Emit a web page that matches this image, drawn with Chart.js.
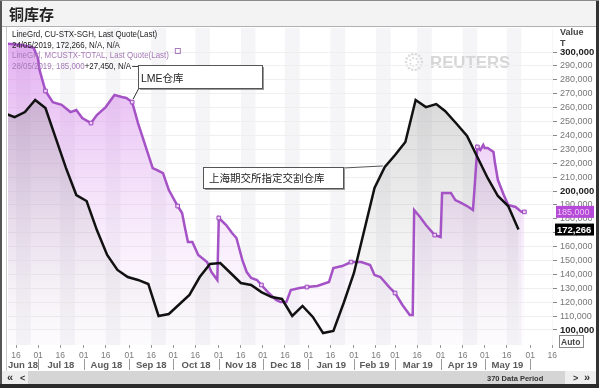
<!DOCTYPE html>
<html><head><meta charset="utf-8">
<script src="https://cdn.jsdelivr.net/npm/chart.js@4.4.1/dist/chart.umd.min.js"></script>
<style>html,body{margin:0;padding:0;background:#fff;overflow:hidden}#wrap{position:relative;width:599px;height:388px}</style>
</head><body><div id="wrap"><canvas id="c" width="599" height="388"></canvas></div>
<script>
// ---- DATA ----
const shfeDates = ["2018-06-08","2018-06-15","2018-06-22","2018-06-29","2018-07-06","2018-07-13","2018-07-20","2018-07-27","2018-08-03","2018-08-10","2018-08-17","2018-08-24","2018-08-31","2018-09-07","2018-09-14","2018-09-21","2018-09-28","2018-10-12","2018-10-19","2018-10-26","2018-11-02","2018-11-09","2018-11-16","2018-11-23","2018-11-30","2018-12-07","2018-12-14","2018-12-21","2018-12-28","2019-01-04","2019-01-11","2019-01-18","2019-01-25","2019-02-01","2019-02-15","2019-02-22","2019-03-01","2019-03-08","2019-03-15","2019-03-22","2019-03-29","2019-04-04","2019-04-12","2019-04-19","2019-04-26","2019-05-03","2019-05-10","2019-05-17","2019-05-24"];
const shfeValues = [256000,253200,256800,265500,259700,238100,216500,197100,192800,171900,154000,143200,138100,136000,133100,110100,111500,125200,138100,147500,148200,141000,133800,132400,127300,123700,122300,110100,117300,109400,97800,99300,119400,141000,202200,217300,225900,235300,265500,260400,262600,257600,248200,239600,224500,209400,196400,189200,172266];

const lmeDates = ["2018-06-10","2018-06-20","2018-06-28","2018-07-01","2018-07-02","2018-07-06","2018-07-11","2018-07-17","2018-07-23","2018-07-27","2018-07-31","2018-08-06","2018-08-10","2018-08-16","2018-08-22","2018-08-27","2018-08-30","2018-09-03","2018-09-07","2018-09-13","2018-09-17","2018-09-20","2018-09-24","2018-09-28","2018-10-04","2018-10-07","2018-10-09","2018-10-11","2018-10-14","2018-10-18","2018-10-24","2018-10-27","2018-10-31","2018-11-01","2018-11-06","2018-11-10","2018-11-13","2018-11-17","2018-11-20","2018-11-23","2018-11-27","2018-11-30","2018-12-05","2018-12-10","2018-12-13","2018-12-17","2018-12-20","2018-12-26","2018-12-31","2019-01-07","2019-01-15","2019-01-18","2019-01-24","2019-01-30","2019-02-06","2019-02-12","2019-02-15","2019-02-19","2019-02-25","2019-03-01","2019-03-06","2019-03-11","2019-03-13","2019-03-14","2019-03-18","2019-03-22","2019-03-28","2019-04-01","2019-04-02","2019-04-08","2019-04-11","2019-04-15","2019-04-20","2019-04-23","2019-04-24","2019-04-26","2019-04-28","2019-04-30","2019-05-01","2019-05-03","2019-05-07","2019-05-08","2019-05-10","2019-05-14","2019-05-17","2019-05-22","2019-05-26","2019-05-28"];
const lmeValues = [306000,305000,303000,295000,287000,272000,264000,262000,256800,258300,252500,248900,254700,260400,269100,267600,267000,264000,248900,229500,216500,215100,212900,200700,189200,184200,173400,163300,163300,154000,148900,141700,136000,180600,175500,169800,166200,150400,141700,137400,136000,132400,126600,121600,120100,120100,128800,130200,130900,131700,134500,144600,146000,148900,148900,146800,139600,138100,130900,126600,118000,110800,110800,186300,181300,175500,168300,166900,198600,198600,193500,191400,188500,186300,200700,231700,229500,233100,230900,230900,228100,220100,207900,197100,189900,188500,185000,185000];
const lmeMarkerDates = ["2018-07-06","2018-08-06","2018-09-03","2018-10-04","2018-11-01","2018-11-30","2018-12-31","2019-01-30","2019-03-01","2019-03-28","2019-04-26","2019-05-28"];

const monthStarts = ["2018-06-01","2018-07-01","2018-08-01","2018-09-01","2018-10-01","2018-11-01","2018-12-01","2019-01-01","2019-02-01","2019-03-01","2019-04-01","2019-05-01","2019-06-01"];
const monthLabels = ["Jun 18","Jul 18","Aug 18","Sep 18","Oct 18","Nov 18","Dec 18","Jan 19","Feb 19","Mar 19","Apr 19","May 19"];
const xTickDates = ["2018-06-16","2018-07-01","2018-07-16","2018-08-01","2018-08-16","2018-09-01","2018-09-16","2018-10-01","2018-10-16","2018-11-01","2018-11-16","2018-12-01","2018-12-16","2019-01-01","2019-01-16","2019-02-01","2019-02-16","2019-03-01","2019-03-16","2019-04-01","2019-04-16","2019-05-01","2019-05-16","2019-06-01","2019-06-16"];
const xTickLabels = ["16","01","16","01","16","01","16","01","16","01","16","01","16","01","16","01","16","01","16","01","16","01","16","01","16"];
const yTickValues = [100000,110000,120000,130000,140000,150000,160000,170000,180000,190000,200000,210000,220000,230000,240000,250000,260000,270000,280000,290000,300000];
const lastShfe = 172266, lastLme = 185000;

// ---- helpers ----
const T0 = Date.parse("2018-06-16T00:00:00Z");
const dayOf = s => (Date.parse(s + "T00:00:00Z") - T0) / 864e5;
const fmt = v => Math.round(v).toLocaleString('en-US');
const LAT = '"Liberation Sans","Noto Sans CJK SC",sans-serif';
const markerSet = new Set(lmeMarkerDates.map(dayOf));
const tickLabelMap = new Map(xTickDates.map((d, i) => [Math.round(dayOf(d)), xTickLabels[i]]));

function txt(ctx, s, x, y, font, color, sx, align) {
  ctx.save(); ctx.font = font; ctx.fillStyle = color; ctx.textBaseline = 'alphabetic';
  ctx.textAlign = align || 'left';
  ctx.translate(x, y); ctx.scale(sx || 1, 1); ctx.fillText(s, 0, 0);
  const w = ctx.measureText(s).width * (sx || 1); ctx.restore(); return w;
}

const bgPlugin = {
  id: 'bg',
  beforeDraw(chart) {
    const c = chart.ctx, a = chart.chartArea, xs = chart.scales.x;
    c.save();
    c.fillStyle = '#fff'; c.fillRect(0, 0, 599, 388);
    c.fillStyle = '#f3f3f3'; c.fillRect(0, 0, 599, 26);
    c.fillStyle = '#b0b0b0'; c.fillRect(0, 26, 599, 1);
    // vertical bands
    c.fillStyle = '#f5f5f7';
    xTickDates.forEach((d, i) => {
      if (xTickLabels[i] !== '16') return;
      const x0 = xs.getPixelForValue(dayOf(d)), x1 = xs.getPixelForValue(dayOf(d) + 10);
      const l = Math.max(x0, a.left), r = Math.min(x1, a.right);
      if (r > l) c.fillRect(l, a.top, r - l, a.bottom - a.top);
    });
    // watermark
    c.fillStyle = '#dcdcdc';
    for (let k = 0; k < 14; k++) {
      const ang = k / 14 * Math.PI * 2;
      c.beginPath(); c.arc(414 + Math.cos(ang) * 8, 62 + Math.sin(ang) * 8, 1.3, 0, Math.PI * 2); c.fill();
    }
    for (let k = 0; k < 7; k++) {
      const ang = k / 7 * Math.PI * 2;
      c.beginPath(); c.arc(414 + Math.cos(ang) * 4, 62 + Math.sin(ang) * 4, 1.1, 0, Math.PI * 2); c.fill();
    }
    txt(c, 'REUTERS', 430, 68, 'bold 16px ' + LAT, '#d6d6d6', 1.05);
    c.restore();
  },
  afterDraw(chart) {
    const c = chart.ctx, a = chart.chartArea, xs = chart.scales.x, ys = chart.scales.y;
    c.save();
    for (let i = 0; i < monthLabels.length; i++) {
      const p0 = xs.getPixelForValue(dayOf(monthStarts[i])), p1 = xs.getPixelForValue(dayOf(monthStarts[i + 1]));
      c.font = 'bold 9.5px ' + LAT;
      const w = c.measureText(monthLabels[i]).width;
      let cx = (p0 + p1) / 2;
      if (cx - w / 2 < a.left) cx = a.left + w / 2;
      txt(c, monthLabels[i], cx, 368, 'bold 9.5px ' + LAT, '#5a5a5a', 1, 'center');
      if (i > 0 && p0 > a.left && p0 < a.right) { c.fillStyle = '#9a9a9a'; c.fillRect(Math.round(p0), 359, 1, 11); }
    }
    c.fillStyle = '#9a9a9a'; c.fillRect(Math.round(xs.getPixelForValue(dayOf(monthStarts[12]))), 359, 1, 11);

    const sx = 0.88;
    txt(c, 'LineGrd, CU-STX-SGH, Last Quote(Last)', 12, 37, '9px ' + LAT, '#222', sx);
    txt(c, '24/05/2019, ' + fmt(lastShfe) + ', N/A, N/A', 12, 47.5, '9px ' + LAT, '#222', sx);
    const w3 = txt(c, 'LineGrd, MCUSTX-TOTAL, Last Quote(Last)', 12, 58, '9px ' + LAT, '#a77ab8', sx);
    c.strokeStyle = '#a77ab8'; c.lineWidth = 1; c.strokeRect(12 + w3 + 6.5, 48.5, 5, 5);
    const w4 = txt(c, '28/05/2019, ' + fmt(lastLme), 12, 68.5, '9px ' + LAT, '#a77ab8', sx);
    const w5 = txt(c, '+27,450, N/A', 12 + w4, 68.5, '9px ' + LAT, '#222', sx);
    c.fillStyle = '#444'; c.fillRect(12 + w4 + w5 + 1, 66, 12, 1);

    function box(x, y, w, h, s, tx) {
      c.fillStyle = '#9a9a9a'; c.fillRect(x + 2, y + 2, w, h);
      c.fillStyle = '#fff'; c.fillRect(x, y, w, h);
      c.strokeStyle = '#555'; c.lineWidth = 1; c.strokeRect(x + 0.5, y + 0.5, w, h);
      txt(c, s, x + tx, y + h - 6, '10.5px ' + LAT, '#222', 1);
    }
    const lx = xs.getPixelForValue(dayOf('2018-09-03')), ly = ys.getPixelForValue(264000);
    c.strokeStyle = '#333'; c.lineWidth = 1;
    c.beginPath(); c.moveTo(139, 88); c.lineTo(lx + 1, ly - 3); c.stroke();
    box(138, 65, 124, 23, 'LME仓库', 3);
    const bx = xs.getPixelForValue(dayOf('2019-02-22')), by = ys.getPixelForValue(217300);
    c.beginPath(); c.moveTo(343, 168); c.lineTo(bx - 2, by - 1); c.stroke();
    box(203, 167, 140, 21, '上海期交所指定交割仓库', 6);

    txt(c, 'Value', 560, 35, 'bold 9px ' + LAT, '#444', 1);
    txt(c, 'T', 560, 46, 'bold 9px ' + LAT, '#444', 1);
    const yL = ys.getPixelForValue(lastLme), yS = ys.getPixelForValue(lastShfe);
    c.fillStyle = '#b54ad8'; c.fillRect(556, yL - 6, 38, 12);
    txt(c, fmt(lastLme), 557, yL + 3.5, '9px ' + LAT, '#eec2f7', 1);
    c.fillStyle = '#000'; c.fillRect(555, yS - 6, 39, 12);
    txt(c, fmt(lastShfe), 557, yS + 3.5, 'bold 9.5px ' + LAT, '#fff', 1);
    c.strokeStyle = '#888'; c.strokeRect(559.5, 335.5, 24, 12);
    txt(c, 'Auto', 561, 345, 'bold 8.5px ' + LAT, '#444', 1);

    c.fillStyle = '#eeeeee'; c.fillRect(2, 371, 594, 13);
    c.fillStyle = '#d5d5d5'; c.fillRect(28, 371, 537, 13);
    txt(c, '«', 7, 381, 'bold 11px ' + LAT, '#333', 1);
    txt(c, '<', 20, 381, 'bold 9px ' + LAT, '#333', 1);
    txt(c, '370 Data Period', 487, 380.5, 'bold 7.5px ' + LAT, '#333', 1);
    txt(c, '>', 573, 381, 'bold 9px ' + LAT, '#333', 1);
    txt(c, '»', 584, 381, 'bold 11px ' + LAT, '#333', 1);
    c.fillStyle = '#555'; c.fillRect(0, 0, 2, 388);
    c.fillStyle = '#333'; c.fillRect(596, 0, 3, 388);
    c.fillStyle = '#2b2b2b'; c.fillRect(0, 384, 599, 4);
    c.fillStyle = '#8a8a8a'; c.fillRect(0, 0, 599, 1);
    c.fillStyle = '#c8c8c8'; c.fillRect(6, 27, 1, 344);
    txt(c, '铜库存', 9, 20, 'bold 15px "Noto Sans CJK SC"', '#222', 1);
    c.restore();
  }
};

function vGrad(chart, stops) {
  const a = chart.chartArea; if (!a) return 'rgba(0,0,0,0)';
  const g = chart.ctx.createLinearGradient(0, a.top, 0, a.bottom);
  stops.forEach(s => g.addColorStop(s[0], s[1]));
  return g;
}

new Chart(document.getElementById('c'), {
  type: 'line',
  data: {
    datasets: [
      {
        label: 'CU-STX-SGH',
        data: shfeDates.map((d, i) => ({ x: dayOf(d), y: shfeValues[i] })),
        borderColor: '#111', borderWidth: 2.5, pointRadius: 0, tension: 0,
        fill: 'start',
        backgroundColor: ctx => vGrad(ctx.chart, [[0, 'rgba(110,110,110,0.36)'], [0.55, 'rgba(150,150,150,0.18)'], [1, 'rgba(200,200,200,0.03)']])
      },
      {
        label: 'MCUSTX-TOTAL',
        data: lmeDates.map((d, i) => ({ x: dayOf(d), y: lmeValues[i] })),
        borderColor: '#a452c6', borderWidth: 2.5, tension: 0,
        pointRadius: ctx => (ctx.raw && markerSet.has(ctx.raw.x)) ? 2.6 : 0,
        pointStyle: 'rect', pointBackgroundColor: '#ecd0f4', pointBorderColor: '#9a48bd', pointBorderWidth: 1,
        fill: 'start',
        backgroundColor: ctx => vGrad(ctx.chart, [[0, 'rgba(205,110,230,0.6)'], [0.5, 'rgba(220,160,238,0.32)'], [1, 'rgba(238,215,245,0.05)']])
      }
    ]
  },
  options: {
    responsive: false, animation: false, events: [],
    layout: { padding: { top: 28, left: 8, right: 0, bottom: 0 } },
    plugins: { legend: { display: false }, tooltip: { enabled: false }, filler: { drawTime: 'beforeDatasetsDraw' } },
    scales: {
      x: {
        type: 'linear', min: -5.5, max: 365.5,
        afterBuildTicks: s => { s.ticks = xTickDates.map(d => ({ value: dayOf(d) })); },
        afterFit: s => { s.height = 43; },
        grid: { drawOnChartArea: false, tickLength: 3, color: '#999', tickColor: '#999' },
        border: { display: false },
        ticks: { autoSkip: false, maxRotation: 0, padding: 3, color: '#7a7a7a', font: { family: LAT, size: 8.5 },
          callback: v => tickLabelMap.get(Math.round(v)) || '' }
      },
      y: {
        position: 'right', min: 89200, max: 317300,
        afterBuildTicks: s => { s.ticks = yTickValues.map(v => ({ value: v })); },
        afterFit: s => { s.width = 46; },
        grid: { color: '#efefef', tickColor: '#888', tickLength: 4, lineWidth: 1 },
        border: { display: false },
        ticks: { padding: 3,
          color: ctx => (ctx.tick && ctx.tick.value % 100000 === 0) ? '#222' : '#777',
          font: ctx => ({ family: LAT, size: (ctx.tick && ctx.tick.value % 100000 === 0) ? 9.5 : 9, weight: (ctx.tick && ctx.tick.value % 100000 === 0) ? 'bold' : 'normal' }),
          callback: v => fmt(v) }
      }
    }
  },
  plugins: [bgPlugin]
});
</script></body></html>
